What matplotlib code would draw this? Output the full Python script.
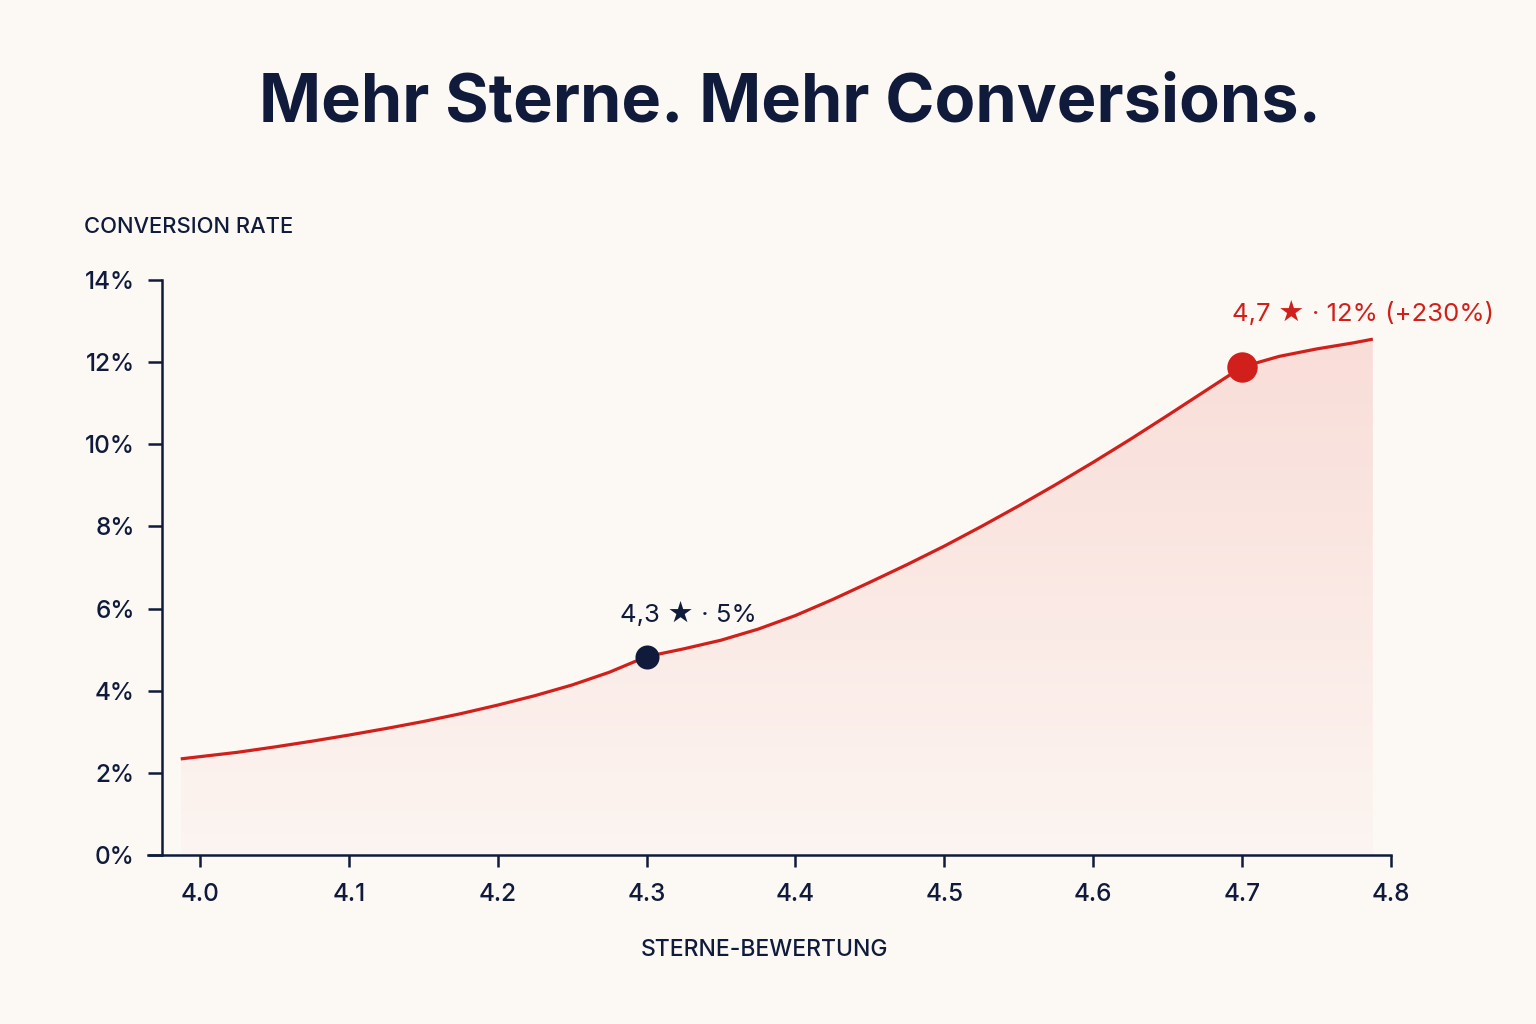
"""
plot.py — Conversion rate vs. star rating (Mehr Sterne. Mehr Conversions.)
"""

import numpy as np
import matplotlib
matplotlib.use("Agg")
import matplotlib.pyplot as plt
from matplotlib.ticker import FuncFormatter
from matplotlib.colors import LinearSegmentedColormap

# ── Data ─────────────────────────────────────────────────────────────────────
ratings = [3.987, 4.025, 4.05, 4.075, 4.10, 4.125, 4.15, 4.175, 4.20,
           4.225, 4.25, 4.275, 4.30, 4.325, 4.35, 4.375, 4.40, 4.425,
           4.45, 4.475, 4.50, 4.525, 4.55, 4.575, 4.60, 4.625, 4.65,
           4.675, 4.70, 4.725, 4.75, 4.775, 4.788]
conv_rate = [2.34, 2.50, 2.63, 2.77, 2.92, 3.08, 3.25, 3.44, 3.65,
             3.88, 4.14, 4.45, 4.83, 5.02, 5.23, 5.50, 5.83, 6.22,
             6.64, 7.07, 7.52, 8.00, 8.50, 9.02, 9.56, 10.12, 10.70,
             11.29, 11.88, 12.14, 12.32, 12.47, 12.56]

x_ticks = [4.0, 4.1, 4.2, 4.3, 4.4, 4.5, 4.6, 4.7, 4.8]
y_ticks = [0, 2, 4, 6, 8, 10, 12, 14]

base_pt = (4.3, 4.83)
base_label = "4,3 ★ · 5%"
top_pt = (4.7, 11.88)
top_label = "4,7 ★ · 12% (+230%)"

title = "Mehr Sterne. Mehr Conversions."
y_label = "CONVERSION RATE"
x_label = "STERNE-BEWERTUNG"

# ── Style ────────────────────────────────────────────────────────────────────
BG = "#fcf9f4"
NAVY = "#101b3b"
RED = "#d1201b"
FONT = ["Inter", "DejaVu Sans"]

plt.rcParams["font.family"] = FONT

fig = plt.figure(figsize=(15.36, 10.24), dpi=100)
fig.patch.set_facecolor(BG)
ax = fig.add_axes([148 / 1536, 169 / 1024, (1390.7 - 148) / 1536, (855 - 280) / 1024])
ax.set_facecolor(BG)

ax.set_xlim(3.965, 4.8)
ax.set_ylim(0, 14)

# Gradient fill under the curve (clipped to the area below the line)
fill = ax.fill_between(ratings, conv_rate, 0, color="none", lw=0)
grad = np.linspace(0.0, 1.0, 256).reshape(-1, 1)
cmap = LinearSegmentedColormap.from_list("pinkfade", ["#fcf5f1", "#f9ddd8"])
img = ax.imshow(grad, cmap=cmap, aspect="auto", origin="lower",
                extent=[ratings[0], ratings[-1], 0, max(conv_rate)], zorder=1)
img.set_clip_path(fill.get_paths()[0], transform=ax.transData)

ax.plot(ratings, conv_rate, color=RED, lw=2.3, zorder=3,
        solid_capstyle="butt", solid_joinstyle="round")

# Markers
ax.scatter([base_pt[0]], [base_pt[1]], s=300, color=NAVY, zorder=5, lw=0)
ax.scatter([top_pt[0]], [top_pt[1]], s=480, color=RED, zorder=5, lw=0)

ax.annotate(base_label, xy=base_pt, xytext=(-27, 35), textcoords="offset pixels",
            ha="left", va="baseline", fontsize=18.5, color=NAVY, family=FONT)
ax.annotate(top_label, xy=top_pt, xytext=(-10, 46), textcoords="offset pixels",
            ha="left", va="baseline", fontsize=18.5, color=RED, family=FONT)

# Axes formatting
for side in ("top", "right"):
    ax.spines[side].set_visible(False)
ax.spines["left"].set_position(("data", 3.9747))
ax.spines["left"].set_bounds(0, 14)
for side in ("left", "bottom"):
    ax.spines[side].set_color(NAVY)
    ax.spines[side].set_linewidth(1.8)

ax.set_xticks(x_ticks)
ax.set_yticks(y_ticks)
ax.xaxis.set_major_formatter(FuncFormatter(lambda v, p: f"{v:.1f}"))
ax.yaxis.set_major_formatter(FuncFormatter(lambda v, p: f"{v:.0f}%"))
ax.tick_params(axis="both", colors=NAVY, labelcolor=NAVY, labelsize=17.5,
               width=1.8, direction="out")
ax.tick_params(axis="y", length=10, pad=10)
ax.tick_params(axis="x", length=8.5, pad=12)
for lbl in ax.get_xticklabels() + ax.get_yticklabels():
    lbl.set_fontweight("medium")

# Text
fig.text(790 / 1536, (1024 - 121) / 1024, title, ha="center", va="baseline",
         fontsize=48, fontweight="bold", color=NAVY)
fig.text(84 / 1536, (1024 - 233) / 1024, y_label, ha="left", va="baseline",
         fontsize=15.8, fontweight="medium", color=NAVY)
fig.text(765 / 1536, (1024 - 956) / 1024, x_label, ha="center", va="baseline",
         fontsize=16.5, fontweight="medium", color=NAVY)

fig.savefig("out.png", dpi=100, facecolor=fig.get_facecolor())
plt.close(fig)
